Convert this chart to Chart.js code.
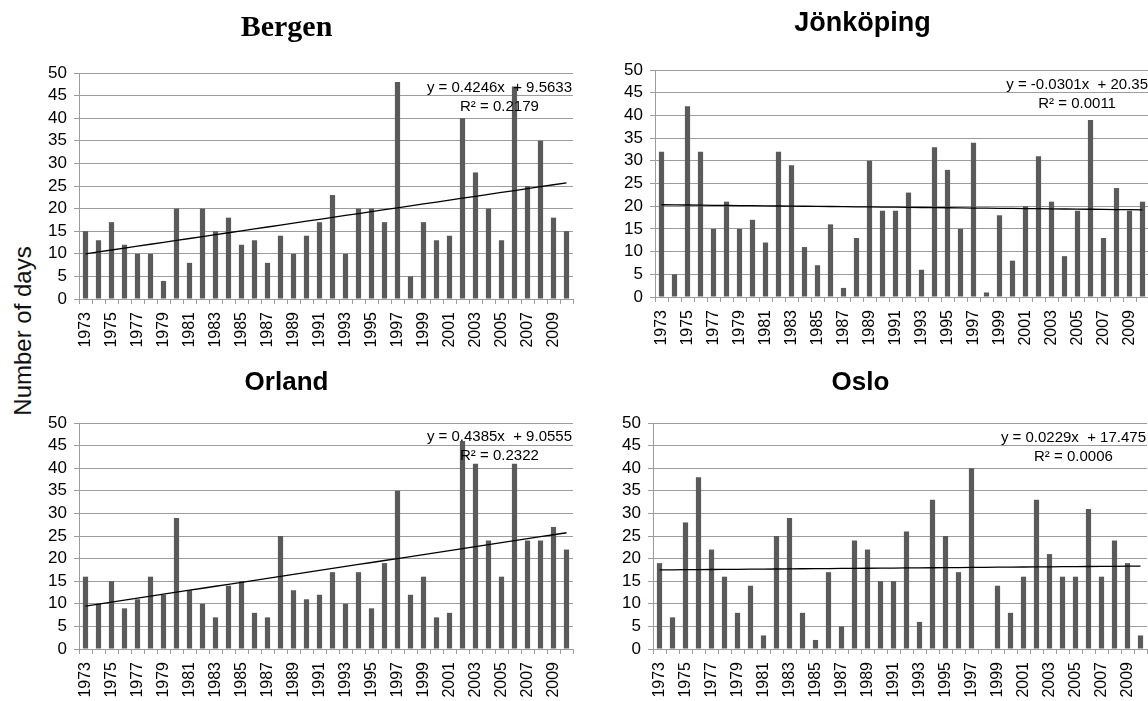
<!DOCTYPE html>
<html>
<head>
<meta charset="utf-8">
<script src="https://cdn.jsdelivr.net/npm/chart.js@4/dist/chart.umd.min.js"></script>
<style>
  html, body { margin: 0; padding: 0; background: #fff; width: 1148px; height: 701px; overflow: hidden; }
  .panel { position: absolute; width: 600px; height: 360px; }
  #ylabel {
    position: absolute; left: 23px; top: 331px;
    transform: translate(-50%, -50%) rotate(-90deg);
    font: 24px "Liberation Sans", Arial, sans-serif; color: #111; white-space: nowrap;
  }
</style>
</head>
<body>
<div id="ylabel">Number of days</div>
<div class="panel" style="left:0px;top:0px"><canvas id="bergenChart"></canvas></div>
<div class="panel" style="left:576px;top:-3px"><canvas id="jonkopingChart"></canvas></div>
<div class="panel" style="left:0px;top:350px"><canvas id="orlandChart"></canvas></div>
<div class="panel" style="left:574px;top:350px"><canvas id="osloChart"></canvas></div>

<script>
  // categories
  var years = ['1973','1974','1975','1976','1977','1978','1979','1980','1981','1982',
               '1983','1984','1985','1986','1987','1988','1989','1990','1991','1992',
               '1993','1994','1995','1996','1997','1998','1999','2000','2001','2002',
               '2003','2004','2005','2006','2007','2008','2009','2010'];

  // days per year
  var bergenDays = [15,13,17,12,10,10,4,20,8,20,15,18,12,13,8,14,10,14,17,23,
                    10,20,20,17,48,5,17,13,14,40,28,20,13,47,25,35,18,15];
  var jonkopingDays = [32,5,42,32,15,21,15,17,12,32,29,11,7,16,2,13,30,19,19,23,
                       6,33,28,15,34,1,18,8,20,31,21,9,19,39,13,24,19,21];
  var orlandDays = [16,10,15,9,11,16,12,29,13,10,7,14,15,8,7,25,13,11,12,17,
                    10,17,9,19,35,12,16,7,8,46,41,24,16,41,24,24,27,22];
  var osloDays = [19,7,28,38,22,16,8,14,3,25,29,8,2,17,5,24,22,15,15,26,
                  6,33,25,17,40,0,14,8,16,33,21,16,16,31,16,24,19,3];

  // linear trends as printed on each panel
  var stations = ['Bergen', 'Jönköping', 'Orland', 'Oslo'];
  var trendSlopes = [0.4246, -0.0301, 0.4385, 0.0229];
  var trendIntercepts = [9.5633, 20.35, 9.0555, 17.475];
  var trendR2 = ['0.2179', '0.0011', '0.2322', '0.0006'];

  // y axis ticks
  var yMin = 0, yMax = 50, yStep = 5;

  var gridGrey = '#9c9c9c';
  var barGrey = '#5a5a5a';
  var sans = '"Liberation Sans", Arial, sans-serif';

  // draws the trend equation in the top right corner of the plot
  var trendLabelPlugin = {
    id: 'trendLabel',
    afterDraw: function(chart, args, opts) {
      var ctx = chart.ctx;
      var area = chart.chartArea;
      ctx.save();
      ctx.font = '15px ' + sans;
      ctx.fillStyle = '#000';
      ctx.textAlign = 'center';
      ctx.textBaseline = 'middle';
      var w = ctx.measureText(opts.line1).width;
      var cx = area.right - 1 - w / 2;
      ctx.fillText(opts.line1, cx, area.top + opts.offset);
      ctx.fillText(opts.line2, cx, area.top + opts.offset + 19);
      ctx.restore();
    }
  };

  function makeChart(canvasId, idx, days, titleFont, titlePad, axisHeight, eqOffset) {
    var trend = years.map(function(y, i) {
      return trendSlopes[idx] * (i + 1) + trendIntercepts[idx];
    });
    var ctx = document.getElementById(canvasId).getContext('2d');
    return new Chart(ctx, {
      type: 'bar',
      data: {
        labels: years,
        datasets: [{
          type: 'line',
          data: trend,
          borderColor: '#000',
          borderWidth: 1.3,
          pointRadius: 0,
          order: 0
        }, {
          data: days,
          backgroundColor: barGrey,
          barPercentage: 0.4,
          categoryPercentage: 1,
          order: 1
        }]
      },
      plugins: [trendLabelPlugin],
      options: {
        responsive: true,
        maintainAspectRatio: false,
        animation: false,
        layout: { padding: { left: 0, right: 27, top: 0, bottom: 0 } },
        plugins: {
          legend: { display: false },
          tooltip: { enabled: false },
          title: {
            display: true,
            text: stations[idx],
            color: '#000',
            font: titleFont,
            padding: titlePad
          },
          trendLabel: {
            line1: 'y = ' + trendSlopes[idx] + 'x  + ' + trendIntercepts[idx],
            line2: 'R² = ' + trendR2[idx],
            offset: eqOffset
          }
        },
        scales: {
          x: {
            offset: true,
            grid: { drawOnChartArea: false, drawTicks: true, tickLength: 5, color: gridGrey, offset: true },
            border: { color: gridGrey },
            ticks: {
              autoSkip: false,
              minRotation: 90,
              maxRotation: 90,
              padding: 8,
              color: '#000',
              font: { family: sans, size: 16 },
              callback: function(value, index) {
                return index % 2 === 0 ? years[index] : '';
              }
            },
            afterFit: function(scale) { scale.height = axisHeight; }
          },
          y: {
            min: yMin,
            max: yMax,
            grid: { color: gridGrey, tickLength: 5 },
            border: { color: gridGrey },
            ticks: {
              stepSize: yStep,
              autoSkip: false,
              padding: 7,
              color: '#000',
              font: { family: sans, size: 17 }
            },
            afterFit: function(scale) { scale.width = 79; }
          }
        }
      }
    });
  }

  makeChart('bergenChart', 0, bergenDays,
            { family: '"Liberation Serif", "Times New Roman", serif', size: 30, weight: 'bold' },
            { top: 10, bottom: 27 }, 61, 15);
  makeChart('jonkopingChart', 1, jonkopingDays,
            { family: sans, size: 27, weight: 'bold' },
            { top: 10, bottom: 30.6 }, 60, 15);
  makeChart('orlandChart', 2, orlandDays,
            { family: sans, size: 26, weight: 'bold' },
            { top: 17.4, bottom: 24.4 }, 61, 14);
  makeChart('osloChart', 3, osloDays,
            { family: sans, size: 26, weight: 'bold' },
            { top: 17.4, bottom: 24.4 }, 61, 15);
</script>
</body>
</html>
